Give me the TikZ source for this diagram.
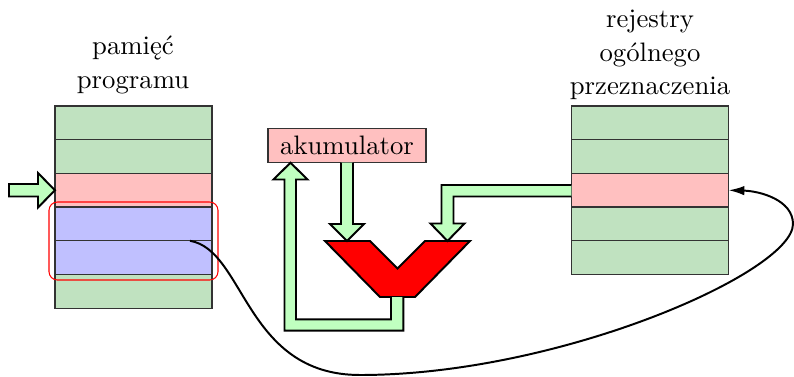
\documentclass[tikz,border=0pt]{standalone}
\usepackage{fontspec}
\usetikzlibrary{arrows.meta}
\definecolor{blockgreen}{RGB}{192,226,192}
\definecolor{arrowgreen}{RGB}{192,255,192}
\definecolor{cellpink}{RGB}{255,192,192}
\definecolor{cellblue}{RGB}{192,192,255}
\begin{document}
\begin{tikzpicture}[x=0.38pt,y=-0.38pt,
  cell/.style={draw=black!80, line width=0.5pt, minimum width=59.7pt, minimum height=12.8pt, inner sep=0pt, outer sep=0pt},
  fatarrow/.style={fill=arrowgreen},
  fatedge/.style={draw=black, line width=0.75pt, line join=miter},
  lbl/.style={align=center, font=\fontsize{10.15pt}{12.7pt}\selectfont, inner sep=0pt}]
\useasboundingbox (0,0) rectangle (794,376);

% labels
\node[lbl] (lmem) at (133,65) {pamięć\\programu};
\node[lbl] (lreg) at (650,55) {rejestry\\ogólnego\\przeznaczenia};

% program memory
\node[cell, fill=blockgreen] (m1) at (133.5,122.85) {};
\node[cell, fill=blockgreen] (m2) at (133.5,156.55) {};
\node[cell, fill=cellpink]   (m3) at (133.5,190.25) {};
\node[cell, fill=cellblue]   (m4) at (133.5,223.95) {};
\node[cell, fill=cellblue]   (m5) at (133.5,257.65) {};
\node[cell, fill=blockgreen] (m6) at (133.5,291.35) {};
\draw[red, line width=0.4pt, rounded corners=3.2pt] (49,202) rectangle (218,280);

% registers
\node[cell, fill=blockgreen] (r1) at (650,122.85) {};
\node[cell, fill=blockgreen] (r2) at (650,156.55) {};
\node[cell, fill=cellpink]   (r3) at (650,190.25) {};
\node[cell, fill=blockgreen] (r4) at (650,223.95) {};
\node[cell, fill=blockgreen] (r5) at (650,257.65) {};

% accumulator
\node[draw=black!80, line width=0.5pt, fill=cellpink, minimum width=60pt, minimum height=13pt, inner sep=0pt,
      font=\fontsize{10.15pt}{12pt}\selectfont] (acc) at (347,145.5) {akumulator};

% input arrow to program memory
\filldraw[fatarrow, fatedge] (9,184) -- (38,184) -- (38,173) -- (m3.west) -- (38,207.5) -- (38,196.5) -- (9,196.5) -- cycle;

% ALU
\coordinate (aluL) at (347,241);
\coordinate (aluR) at (447.5,241);
\filldraw[fill=red, draw=black, line width=0.75pt, line join=miter]
  (325,241) -- (370,241) -- (397.5,268.5) -- (425,241) -- (470,241) -- (415,297) -- (380,297) -- cycle;

% accumulator -> ALU left
\fill[fatarrow] (341,162.7) -- (341,224) -- (330,224) -- (aluL) -- (364,224) -- (353,224) -- (353,162.7) -- cycle;
\draw[fatedge] (341,162.7) -- (341,224) -- (330,224) -- (aluL) -- (364,224) -- (353,224) -- (353,162.7);

% registers -> ALU right
\fill[fatarrow] (r3.west|-0,185) -- (441.5,185) -- (441.5,223.5) -- (430.5,223.5) -- (aluR) -- (464.5,223.5) -- (453.5,223.5) -- (453.5,196.5) -- (r3.west|-0,196.5) -- cycle;
\draw[fatedge] (r3.west|-0,185) -- (441.5,185) -- (441.5,223.5) -- (430.5,223.5) -- (aluR) -- (464.5,223.5) -- (453.5,223.5) -- (453.5,196.5) -- (r3.west|-0,196.5);

% ALU -> accumulator
\coordinate (accIn) at (290.5,162.7);
\fill[fatarrow] (391,297) -- (391,319.3) -- (296,319.3) -- (296,179.5) -- (307.5,179.5) -- (accIn) -- (273.5,179.5) -- (284.5,179.5) -- (284.5,330.7) -- (403.3,330.7) -- (403.3,297) -- cycle;
\draw[fatedge] (391,297) -- (391,319.3) -- (296,319.3) -- (296,179.5) -- (307.5,179.5) -- (accIn) -- (273.5,179.5) -- (284.5,179.5) -- (284.5,330.7) -- (403.3,330.7) -- (403.3,297);

% curve from program memory to register
\coordinate (cstart) at (190,240.8);
\draw[line width=0.75pt, -{Latex[length=6pt,width=3.6pt]}]
  (cstart) .. controls (245,250) and (245,375) .. (360,375)
  .. controls (560,375) and (793,272) .. (793,224)
  .. controls (793,200) and (760,191) .. (r3.east);
\end{tikzpicture}
\end{document}
